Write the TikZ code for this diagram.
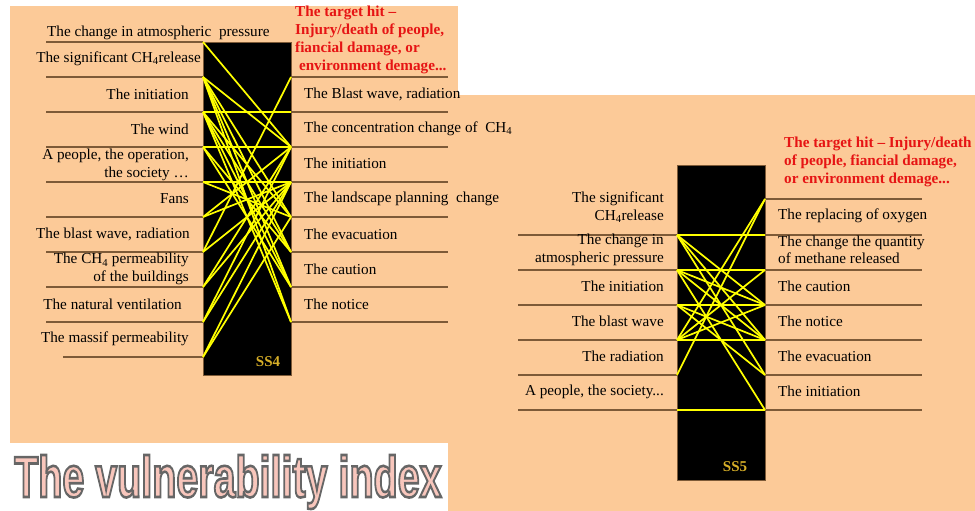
\documentclass[tikz,border=0pt]{standalone}
\usepackage{fontspec}
\setmainfont{Liberation Serif}
\newfontfamily\headfont{Liberation Sans}
\usepackage{graphicx}
\usetikzlibrary{positioning}

\newcommand{\lbl}{\fontsize{15.2}{17.5}\selectfont}
\newcommand{\hitlbl}{\fontsize{15.2}{18}\selectfont\bfseries}
% outlined text: fill with current colour, stroke grey
\newcommand{\outlined}[1]{\special{pdf:literal direct 2 Tr 2.6 w 0.4 0.4 0.4 RG}#1\special{pdf:literal direct 0 Tr}}

\begin{document}
\begin{tikzpicture}[x=1pt, y=-1pt,
  rule/.style={draw=rulebrown, line width=1.4pt},
  link/.style={draw=linkyellow, line width=1.7pt},
  inlbl/.style={anchor=east, align=right, inner sep=0pt, font=\lbl},
  outlbl/.style={anchor=west, align=left, inner sep=0pt, font=\lbl},
  hit/.style={anchor=north west, align=left, inner sep=0pt, text=hitred, font=\hitlbl},
  boxtag/.style={text=taggold, font=\fontsize{15}{15}\selectfont\bfseries}]

  % Define colors
  \definecolor{peach}{RGB}{252,202,152}
  \definecolor{rulebrown}{RGB}{125,90,55}
  \definecolor{linkyellow}{RGB}{255,255,0}
  \definecolor{hitred}{RGB}{230,20,20}
  \definecolor{taggold}{RGB}{215,175,40}
  \definecolor{titlepink}{RGB}{248,198,188}

  \useasboundingbox (0,0) rectangle (975,511);

  % Background panels
  \fill[peach] (10,6) rectangle (458,443);
  \fill[peach] (448,95) rectangle (975,511);

  % Title
  \node[anchor=base west, inner sep=0pt] (title) at (14,497)
    {\scalebox{0.68}[1]{\headfont\bfseries\fontsize{58}{60}\selectfont\color{titlepink}\outlined{The vulnerability index}}};

  %% ---------------- SS4 ----------------
  \fill[black, draw=rulebrown, thin] (203,42) rectangle (291,375);
  \node[boxtag] (ss4) at (268,362) {SS4};

  % end points on the box
  \foreach \i/\y in {0/42,1/77,2/112,3/147,4/182,5/217,6/252,7/287,8/322,9/357} {
    \coordinate (a\i) at (203,\y);
    \coordinate (as\i) at (46,\y);
  }
  \coordinate (as9) at (63,357);
  \foreach \i/\y in {1/77,2/112,3/147,4/182,5/217,6/252,7/287,8/322} {
    \coordinate (b\i) at (291,\y);
    \coordinate (be\i) at (448,\y);
  }

  % rules under the labels
  \foreach \i in {0,...,9} \draw[rule] (as\i) -- (a\i);
  \foreach \i in {1,...,8} \draw[rule] (b\i) -- (be\i);

  % links
  \foreach \p/\q in {0/3,1/3,1/5,1/6,1/7,1/8,2/2,2/5,2/6,2/7,2/8,3/3,3/6,3/7,
                     4/4,4/5,5/3,5/4,6/1,6/4,7/3,7/4,8/3,8/4,9/4,9/5}
    \draw[link] (a\p) -- (b\q);

  % inputs
  \node[inlbl, anchor=west] (in0) at (47,33) {The change in atmospheric\ \ pressure};
  \node[inlbl] (in1) at (201,59) {The significant CH\textsubscript{4}release};
  \node[inlbl] (in2) at (189,94) {The initiation};
  \node[inlbl] (in3) at (189,129) {The wind};
  \node[inlbl] (in4) at (189,165) {A people, the operation,\\the society \dots};
  \node[inlbl] (in5) at (189,199) {Fans};
  \node[inlbl] (in6) at (190,234) {The blast wave, radiation};
  \node[inlbl] (in7) at (189,269) {The CH\textsubscript{4} permeability\\of the buildings};
  \node[inlbl] (in8) at (182,304) {The natural ventilation};
  \node[inlbl] (in9) at (189,339) {The massif permeability};

  % outputs
  \node[hit] (hit4) at (295,6) {The target hit --\\Injury/death of people,\\fiancial damage, or\\\ environment demage...};
  \node[outlbl] (out2) at (304,94) {The Blast wave, radiation};
  \node[outlbl] (out3) at (304,129) {The concentration change of\ \ CH\textsubscript{4}};
  \node[outlbl] (out4) at (304,163) {The initiation};
  \node[outlbl] (out5) at (304,199) {The landscape planning\ \ change};
  \node[outlbl] (out6) at (304,234) {The evacuation};
  \node[outlbl] (out7) at (304,269) {The caution};
  \node[outlbl] (out8) at (304,304) {The notice};

  %% ---------------- SS5 ----------------
  \fill[black, draw=rulebrown, thin] (677,165) rectangle (765,480);
  \node[boxtag] (ss5) at (735,467) {SS5};

  \foreach \i/\y in {0/235,1/270,2/305,3/340,4/375,5/410} {
    \coordinate (c\i) at (677,\y);
    \coordinate (cs\i) at (518,\y);
  }
  \foreach \i/\y in {0/199,1/235,2/270,3/305,4/340,5/375,6/410} {
    \coordinate (d\i) at (765,\y);
    \coordinate (de\i) at (922,\y);
  }

  \foreach \i in {0,...,5} \draw[rule] (cs\i) -- (c\i);
  \foreach \i in {0,...,6} \draw[rule] (d\i) -- (de\i);

  \foreach \p/\q in {0/1,1/2,2/3,3/4,5/6,0/3,0/4,0/5,1/3,1/4,1/6,2/4,2/5,3/0,3/2,3/3,4/0}
    \draw[link] (c\p) -- (d\q);

  % inputs
  \node[inlbl] (sin0) at (664,207) {The significant\\CH\textsubscript{4}release};
  \node[inlbl] (sin1) at (664,250) {The change in\\atmospheric pressure};
  \node[inlbl] (sin2) at (664,286) {The initiation};
  \node[inlbl] (sin3) at (664,321) {The blast wave};
  \node[inlbl] (sin4) at (664,356) {The radiation};
  \node[inlbl] (sin5) at (664,392) {A people, the society...};

  % outputs
  \node[hit] (hit5) at (784,137) {The target hit -- Injury/death\\of people, fiancial damage,\\or environment demage...};
  \node[outlbl] (sout1) at (778,216) {The replacing of oxygen};
  \node[outlbl] (sout2) at (778,250) {The change the quantity\\of methane released};
  \node[outlbl] (sout3) at (778,286) {The caution};
  \node[outlbl] (sout4) at (778,321) {The notice};
  \node[outlbl] (sout5) at (778,356) {The evacuation};
  \node[outlbl] (sout6) at (778,391) {The initiation};

\end{tikzpicture}
\end{document}
